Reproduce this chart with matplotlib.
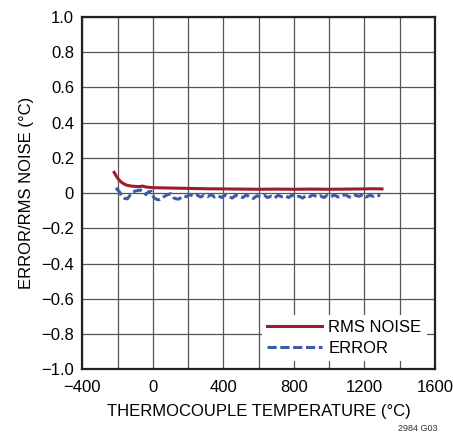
import numpy as np
import matplotlib
matplotlib.use('Agg')
import matplotlib.pyplot as plt

plt.rcParams['font.family'] = ['Liberation Sans', 'DejaVu Sans']

# rms noise (°C) vs thermocouple temperature (°C)
rms_temp = [-220, -210, -200, -190, -180, -170, -160, -150, -140, -120, -100, -80, -60,
            -40, -20, 0, 50, 100, 150, 200, 250, 300, 400, 500, 600, 700, 800, 900,
            1000, 1100, 1200, 1250, 1300]
rms_noise = [0.118, 0.100, 0.085, 0.072, 0.063, 0.056, 0.050, 0.046, 0.043, 0.040,
             0.038, 0.037, 0.040, 0.035, 0.033, 0.031, 0.030, 0.029, 0.028, 0.027,
             0.026, 0.025, 0.024, 0.023, 0.022, 0.023, 0.022, 0.023, 0.022, 0.023,
             0.024, 0.025, 0.024]

# error (°C)
err_temp = [-210, -200, -190, -175, -160, -145, -130, -115, -100, -85, -70, -55, -40,
            -25, -10, 5, 20, 35, 50, 65, 80, 100, 115, 130, 145, 160, 175, 190, 210,
            230, 250, 270, 290, 310, 330, 350, 370, 390, 410, 430, 450, 470, 490, 510,
            530, 550, 570, 590, 610, 630, 650, 670, 690, 710, 730, 750, 770, 790, 810,
            830, 850, 870, 890, 910, 930, 950, 970, 990, 1010, 1030, 1050, 1070, 1090,
            1110, 1130, 1150, 1170, 1190, 1210, 1230, 1250, 1270, 1290]
err_val = [0.030, 0.018, 0.008, -0.020, -0.030, -0.032, -0.012, 0.005, 0.012, 0.015,
           0.018, 0.005, -0.008, 0.008, 0.010, -0.025, -0.035, -0.038, -0.030, -0.018,
           -0.010, -0.003, -0.025, -0.032, -0.034, -0.025, -0.015, -0.020, -0.008,
           -0.018, -0.010, -0.022, -0.012, -0.020, -0.008, -0.022, -0.015, -0.025,
           -0.010, -0.020, -0.028, -0.012, -0.018, -0.025, -0.010, -0.022, -0.030,
           -0.015, -0.020, -0.010, -0.025, -0.018, -0.028, -0.012, -0.020, -0.015,
           -0.025, -0.010, -0.022, -0.018, -0.028, -0.012, -0.020, -0.008, -0.022,
           -0.015, -0.025, -0.012, -0.020, -0.010, -0.022, -0.018, -0.008, -0.020,
           -0.025, -0.012, -0.018, -0.008, -0.022, -0.012, -0.018, -0.010, -0.015]

fig = plt.figure(figsize=(4.53, 4.36), dpi=100)
ax = fig.add_axes([0.182, 0.153, 0.778, 0.808])

ax.plot(rms_temp, rms_noise, color='#9b1b30', lw=2.2, label='RMS NOISE', zorder=3)
ax.plot(err_temp, err_val, color='#3b5ca8', lw=2.2, dashes=(3, 1.2), label='ERROR', zorder=3)

ax.set_xlim(-400, 1600)
ax.set_ylim(-1.0, 1.0)
ax.set_xticks(np.arange(-400, 1601, 200))
ax.set_xticklabels(['\u2212400', '', '0', '', '400', '', '800', '', '1200', '', '1600'])
yt = np.round(np.arange(-1.0, 1.01, 0.2), 1)
ax.set_yticks(yt)
ax.set_yticklabels([('\u2212' if v < 0 else '') + f'{abs(v):.1f}' if v != 0 else '0' for v in yt])
ax.tick_params(length=0, labelsize=12, pad=6)
ax.tick_params(axis='x', pad=8)
ax.grid(True, color='#555555', lw=0.9)
ax.set_axisbelow(True)
for s in ax.spines.values():
    s.set_linewidth(1.6)
    s.set_color('#222222')

ax.set_xlabel('THERMOCOUPLE TEMPERATURE (°C)', fontsize=12, labelpad=6)
ax.set_ylabel('ERROR/RMS NOISE (°C)', fontsize=12, labelpad=5)

leg = ax.legend(loc='lower right', fontsize=12, frameon=True, fancybox=False,
                handlelength=3.3, borderaxespad=0.5, labelspacing=0.35, handletextpad=0.4,
                borderpad=0.3)
leg.get_frame().set_edgecolor('none')
leg.get_frame().set_alpha(1)

fig.text(0.965, 0.006, '2984 G03', fontsize=6.5, ha='right', va='bottom', color='#333333')

fig.savefig('out.png', dpi=100)
